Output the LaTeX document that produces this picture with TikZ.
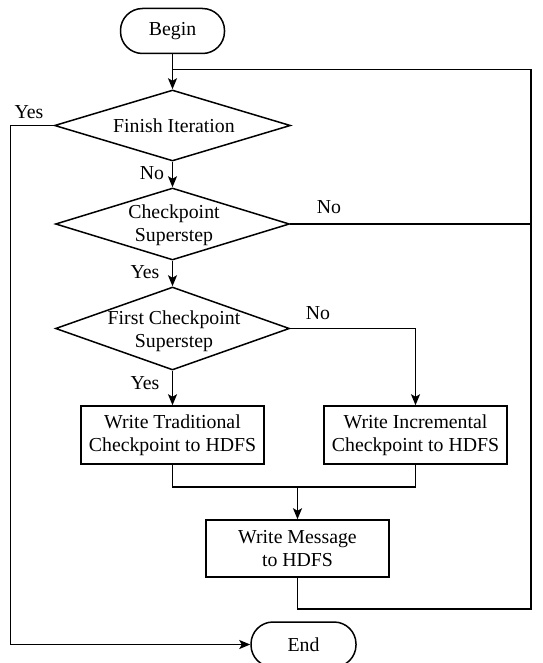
\documentclass[tikz,border=0pt]{standalone}
\usepackage{fontspec}
\setmainfont{Liberation Serif}
\usetikzlibrary{shapes.geometric,arrows.meta}
\begin{document}
\begin{tikzpicture}[x=1pt,y=-1pt,
  every node/.style={font=\fontsize{19.8}{22.5}\selectfont},
  line/.style={line width=1.5pt},
  arr/.style={line width=1.5pt,-{Stealth[length=11pt,width=9pt,inset=2.5pt]}},
  term/.style={draw,line width=1.5pt,rectangle,rounded corners=22pt,minimum width=104pt,minimum height=45pt,inner sep=0pt},
  dia/.style={draw,line width=1.5pt,diamond,inner sep=0pt},
  procbox/.style={draw,line width=1.5pt,rectangle,minimum width=183pt,minimum height=58pt,inner sep=0pt,align=center},
  txt/.style={align=center,inner sep=0pt},
  lbl/.style={inner sep=0pt}]
\useasboundingbox (0,0) rectangle (542,663);
% nodes
\node[term] (begin) at (172.5,31) {Begin};
\node[dia,minimum width=236pt,minimum height=71pt] (finish) at (172.5,125.5) {};
\node[txt] (finisht) at (174,126) {Finish Iteration};
\node[dia,minimum width=234pt,minimum height=72pt] (ckpt) at (172.5,224) {};
\node[txt] (ckptt) at (174,225) {Checkpoint\\Superstep};
\node[dia,minimum width=234pt,minimum height=83pt] (first) at (172.5,328.5) {};
\node[txt] (firstt) at (174,331) {First Checkpoint\\Superstep};
\node[procbox] (trad) at (172.5,435) {Write Traditional\\Checkpoint to HDFS};
\node[procbox] (incr) at (415.5,435) {Write Incremental\\Checkpoint to HDFS};
\node[procbox,minimum height=57pt] (msg) at (297.5,548.5) {Write Message\\to HDFS};
\node[term,minimum width=105pt] (end) at (303.5,644.5) {End};
% labels
\node[lbl] (yes1) at (29,112) {Yes};
\node[lbl] (no1) at (152,173) {No};
\node[lbl] (yes2) at (145,272) {Yes};
\node[lbl] (no2) at (329,207) {No};
\node[lbl] (no3) at (318,313) {No};
\node[lbl] (yes3) at (145,383) {Yes};
% coordinates
\coordinate (tj) at (172.5,69.5);
\coordinate (rt) at (531,69.5);
\coordinate (rb) at (531,609);
\coordinate (merge) at (297.5,487);
\coordinate (lt) at (10.5,125.5);
% connectors
\draw[arr] (begin.south) -- (finish.north);
\draw[arr] (finish.south) -- (ckpt.north);
\draw[arr] (ckpt.south) -- (first.north);
\draw[arr] (first.south) -- (trad.north);
\draw[arr] (first.east) -| (incr.north);
\draw[line] (trad.south) |- (merge);
\draw[line] (incr.south) |- (merge);
\draw[arr] (merge) -- (msg.north);
\draw[line] (msg.south) |- (rb) -- (rt) -- (tj);
\draw[line] (ckpt.east) -- (ckpt.east -| rt);
\draw[arr] (finish.west) -- (lt) |- (end.west);
\end{tikzpicture}
\end{document}
